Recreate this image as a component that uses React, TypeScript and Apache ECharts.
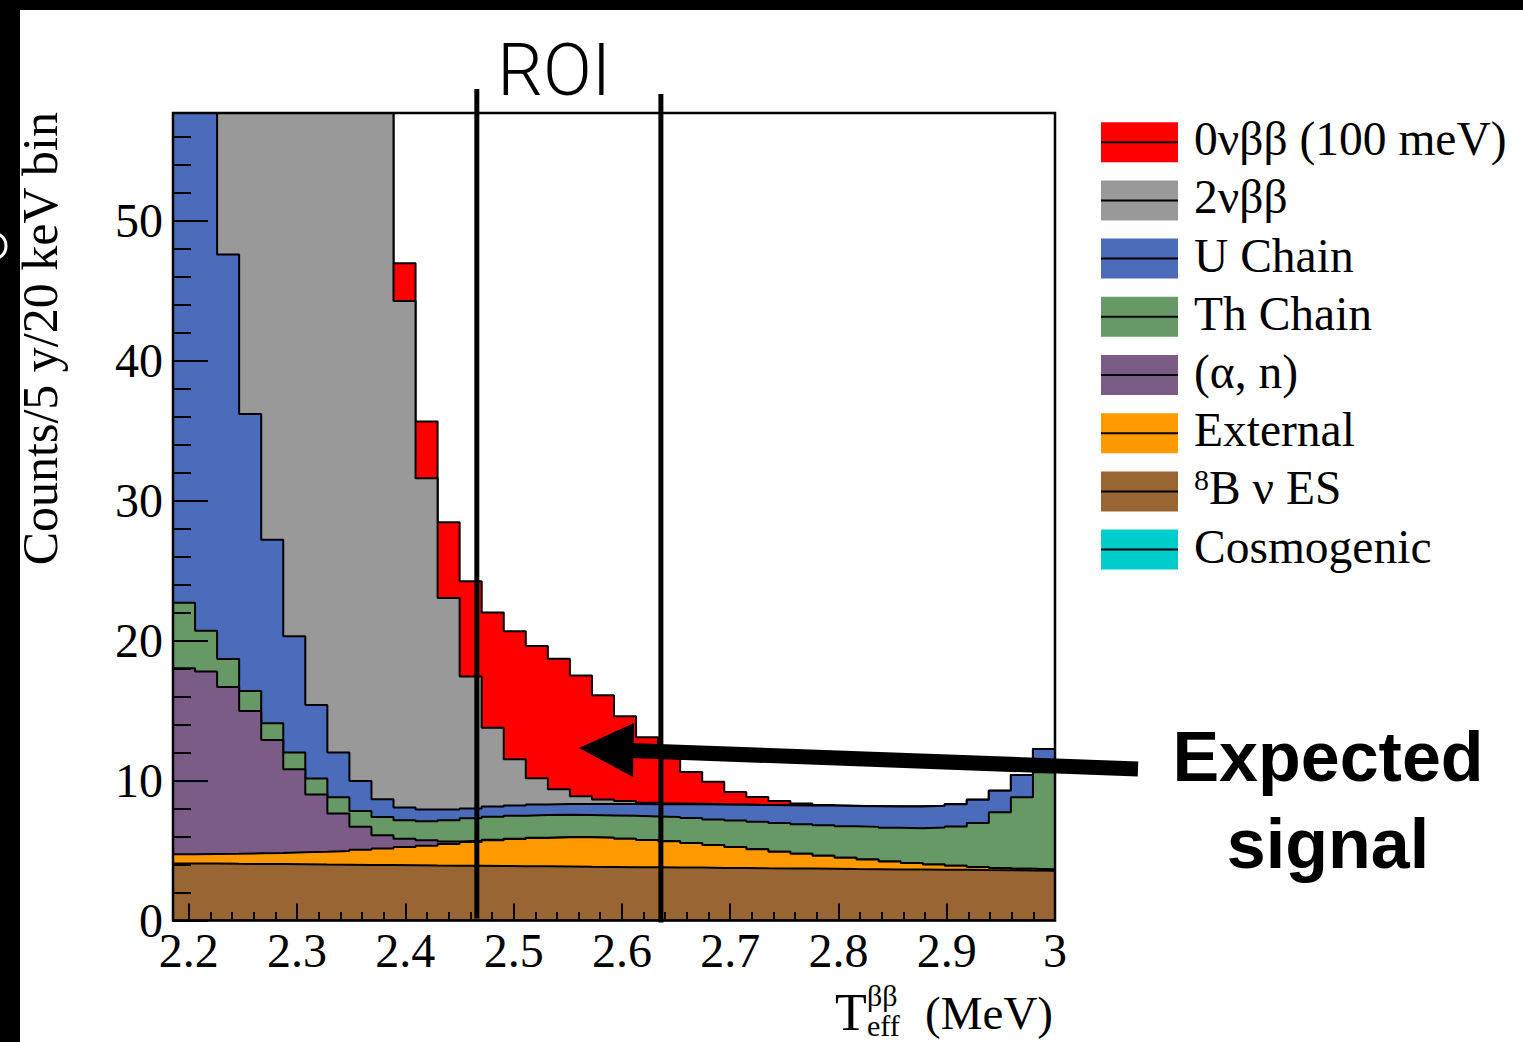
import React, { useEffect, useRef } from "react";
import * as echarts from "echarts";

// ---- axis ranges / ticks ----
const X_MIN = 2.1854;
const X_MAX = 3.0;
const Y_MAX = 57.7;
const N_BINS = 40;
const xMajorTicks = [2.2, 2.3, 2.4, 2.5, 2.6, 2.7, 2.8, 2.9, 3.0];
const yMajorTicks = [0, 10, 20, 30, 40, 50];
const roiEdges = [2.466, 2.636];

// ---- components (legend order = top of stack first) ----
const componentNames = ["0νββ (100 meV)", "2νββ", "U Chain", "Th Chain", "(α, n)", "External", "8B ν ES", "Cosmogenic"];
const legendLabels = ["0νββ (100 meV)", "2νββ", "U Chain", "Th Chain", "(α, n)", "External", "{sup|8}B ν ES", "Cosmogenic"];
const componentColors = ["#ff0000", "#999999", "#4a6cba", "#669966", "#7a5c87", "#ff9900", "#996633", "#00cccc"];

// counts per 20 keV bin, 40 bins
const zeroNuBB = [0.05, 0.08, 0.12, 0.2, 0.3, 0.45, 0.7, 1.0, 1.4, 2.0,
  2.7, 4.05, 5.41, 6.81, 8.23, 9.15, 9.45, 9.34, 8.62, 7.46,
  6.06, 4.68, 3.64, 2.27, 1.61, 0.91, 0.57, 0.3, 0.14, 0.05,
  0.02, 0, 0, 0, 0, 0, 0, 0, 0, 0];
const twoNuBB = [440, 380, 320, 265, 215, 170, 130, 98, 72, 52,
  36.2, 23.67, 15.12, 9.43, 5.63, 3.3, 1.87, 1.04, 0.55, 0.31,
  0.22, 0.12, 0.06, 0.03, 0.02, 0.01, 0, 0, 0, 0,
  0, 0, 0, 0, 0, 0, 0, 0, 0, 0];
const uChain = [60, 42, 28.9, 19.8, 13.1, 8.3, 5.25, 3.2, 2.13, 1.27,
  0.91, 0.83, 0.77, 0.7, 0.72, 0.74, 0.76, 0.78, 0.8, 0.82,
  0.84, 0.86, 0.9, 0.98, 1.06, 1.12, 1.2, 1.27, 1.34, 1.4,
  1.45, 1.48, 1.52, 1.56, 1.56, 1.6, 1.65, 1.55, 1.6, 1.65];
const thChain = [4.67, 2.9, 2.0, 1.43, 1.2, 1.2, 1.15, 1.16, 1.14, 1.31,
  1.31, 1.37, 1.51, 1.61, 1.65, 1.63, 1.62, 1.61, 1.59, 1.6,
  1.64, 1.68, 1.74, 1.79, 1.82, 1.9, 1.96, 2.04, 2.11, 2.19,
  2.25, 2.34, 2.41, 2.48, 2.63, 2.79, 3.14, 3.97, 5.11, 6.96];
const alphaN = [13.3, 13.05, 11.92, 10.17, 8.07, 5.93, 4.08, 2.67, 1.64, 0.95,
  0.6, 0.38, 0.18, 0.08, 0.04, 0.02, 0.01, 0, 0, 0,
  0, 0, 0, 0, 0, 0, 0, 0, 0, 0,
  0, 0, 0, 0, 0, 0, 0, 0, 0, 0];
const external = [0.65, 0.68, 0.72, 0.76, 0.8, 0.86, 0.92, 0.98, 1.08, 1.18,
  1.3, 1.42, 1.55, 1.7, 1.84, 1.95, 2.03, 2.08, 2.1, 2.08,
  2.03, 1.96, 1.87, 1.76, 1.64, 1.5, 1.36, 1.2, 1.06, 0.92,
  0.8, 0.68, 0.57, 0.47, 0.38, 0.3, 0.23, 0.17, 0.12, 0.08];
const b8Solar = [4.08, 4.07, 4.05, 4.04, 4.03, 4.02, 4.0, 3.99, 3.97, 3.96,
  3.95, 3.93, 3.92, 3.91, 3.89, 3.88, 3.87, 3.86, 3.84, 3.83,
  3.81, 3.8, 3.79, 3.78, 3.76, 3.75, 3.73, 3.72, 3.71, 3.7,
  3.68, 3.67, 3.65, 3.64, 3.63, 3.62, 3.6, 3.59, 3.57, 3.56];
const cosmogenic = [0, 0, 0, 0, 0, 0, 0, 0, 0, 0,
  0, 0, 0, 0, 0, 0, 0, 0, 0, 0,
  0, 0, 0, 0, 0, 0, 0, 0, 0, 0,
  0, 0, 0, 0, 0, 0, 0, 0, 0, 0];

const SERIF = "'Liberation Serif', 'Times New Roman', serif";
const SANS = "'Liberation Sans', Helvetica, Arial, sans-serif";

export default function App() {
  const ref = useRef<HTMLDivElement>(null);

  useEffect(() => {
    const el = ref.current as HTMLDivElement;
    const chart = echarts.init(el, null, { renderer: "svg" });

    const components = [zeroNuBB, twoNuBB, uChain, thChain, alphaN, external, b8Solar, cosmogenic];
    const binW = (X_MAX - X_MIN) / N_BINS;
    const edges: number[] = [];
    for (let i = 0; i <= N_BINS; i++) edges.push(X_MIN + i * binW);

    // cumulative stack (bottom = last component)
    const cum: number[][] = [];
    let running: number[] = components[0].map(() => 0);
    for (let k = components.length - 1; k >= 0; k--) {
      running = running.map((v, i) => v + components[k][i]);
      cum[k] = running.slice();
    }

    const xMinor: number[] = [];
    for (let i = 0; i <= 40; i++) {
      const v = Math.round((2.2 + i * 0.02) * 1000) / 1000;
      xMinor.push(v);
    }
    const yMinor: number[] = [];
    for (let v = 2; v < Y_MAX; v += 2) if (v % 10 !== 0) yMinor.push(v);

    const series = components.map((_, k) => ({
      type: "line",
      name: componentNames[k],
      step: "end",
      data: [...cum[k].map((v, i) => [edges[i], v]), [edges[N_BINS], cum[k][N_BINS - 1]]],
      showSymbol: false,
      symbol: "none",
      silent: true,
      clip: true,
      z: 2 + k,
      lineStyle: { color: "#000", width: 2 },
      itemStyle: { color: componentColors[k] },
      areaStyle: { color: componentColors[k], opacity: 1, origin: "start" },
    }));

    const tickStyle = { color: "#000", width: 2 };
    const option: any = {
      animation: false,
      backgroundColor: "#ffffff",
      grid: { left: 173, top: 113, width: 882, height: 807.5, show: false },
      xAxis: [
        {
          type: "value", min: X_MIN, max: X_MAX, position: "bottom", z: 20,
          axisLine: { show: false }, splitLine: { show: false },
          axisTick: { show: true, inside: true, length: 17, lineStyle: tickStyle, customValues: xMajorTicks },
          axisLabel: {
            show: true, customValues: xMajorTicks, margin: 6, fontFamily: SERIF, fontSize: 48, color: "#000",
            formatter: (v: number) => String(v),
          },
        },
        {
          type: "value", min: X_MIN, max: X_MAX, position: "bottom", z: 20,
          axisLine: { show: false }, splitLine: { show: false }, axisLabel: { show: false },
          axisTick: { show: true, inside: true, length: 8.5, lineStyle: tickStyle, customValues: xMinor },
        },
      ],
      yAxis: [
        {
          type: "value", min: 0, max: Y_MAX, position: "left", z: 20,
          axisLine: { show: false }, splitLine: { show: false },
          axisTick: { show: true, inside: true, length: 35, lineStyle: tickStyle, customValues: yMajorTicks },
          axisLabel: { show: true, customValues: yMajorTicks, margin: 10, fontFamily: SERIF, fontSize: 48, color: "#000" },
        },
        {
          type: "value", min: 0, max: Y_MAX, position: "left", z: 20,
          axisLine: { show: false }, splitLine: { show: false }, axisLabel: { show: false },
          axisTick: { show: true, inside: true, length: 18, lineStyle: tickStyle, customValues: yMinor },
        },
      ],
      series,
    };
    chart.setOption(option);

    const roiPx = roiEdges.map((v) => chart.convertToPixel({ xAxisIndex: 0 }, v) as number);
    const yZero = chart.convertToPixel({ yAxisIndex: 0 }, 0) as number;

    const legendItems: any[] = [];
    legendLabels.forEach((label, i) => {
      const cy = 142.2 + 58.2 * i;
      legendItems.push(
        { type: "rect", shape: { x: 1101, y: cy - 20, width: 77, height: 40 }, style: { fill: componentColors[i] }, z: 100 },
        { type: "line", shape: { x1: 1101, y1: cy, x2: 1178, y2: cy }, style: { stroke: "#000", lineWidth: 2 }, z: 101 },
        {
          type: "text", x: 1194, y: cy - 3, z: 101,
          style: {
            text: label, fontFamily: SERIF, fontSize: 47.5, fill: "#000", align: "left", verticalAlign: "middle",
            rich: { sup: { fontFamily: SERIF, fontSize: 30, verticalAlign: "top", fill: "#000" } },
          },
        }
      );
    });

    const graphic: any[] = [
      { type: "rect", shape: { x: 0, y: 0, width: 1523, height: 10 }, style: { fill: "#000" }, z: 110 },
      { type: "rect", shape: { x: 0, y: 0, width: 20, height: 1042 }, style: { fill: "#000" }, z: 110 },
      { type: "arc", shape: { cx: -7, cy: 246, r: 13, startAngle: -1.1, endAngle: 1.1 }, style: { stroke: "#fff", lineWidth: 3, fill: "none" }, z: 111 },
      { type: "rect", shape: { x: 173, y: 113, width: 882, height: 807.5 }, style: { fill: "none", stroke: "#000", lineWidth: 2.5 }, z: 100 },
      // ROI lines
      { type: "line", shape: { x1: roiPx[0], y1: 89, x2: roiPx[0], y2: yZero - 2 }, style: { stroke: "#000", lineWidth: 5 }, z: 104 },
      { type: "line", shape: { x1: roiPx[1], y1: 94, x2: roiPx[1], y2: yZero + 2 }, style: { stroke: "#000", lineWidth: 5 }, z: 104 },
      {
        type: "text", x: 554, y: 70, z: 104,
        style: { text: "ROI", fontFamily: "Roboto, 'Liberation Sans', sans-serif", fontWeight: 300, fontSize: 72, fill: "#000", align: "center", verticalAlign: "middle" },
      },
      // arrow
      { type: "line", shape: { x1: 630, y1: 750.5, x2: 1138, y2: 769 }, style: { stroke: "#000", lineWidth: 15 }, z: 105 },
      { type: "polygon", shape: { points: [[579, 748], [634, 723], [633, 777]] }, style: { fill: "#000" }, z: 105 },
      {
        type: "text", x: 1328, y: 757, z: 105,
        style: { text: "Expected", fontFamily: SANS, fontWeight: "bold", fontSize: 70, fill: "#000", align: "center", verticalAlign: "middle" },
      },
      {
        type: "text", x: 1328, y: 844, z: 105,
        style: { text: "signal", fontFamily: SANS, fontWeight: "bold", fontSize: 70, fill: "#000", align: "center", verticalAlign: "middle" },
      },
      // y-axis title
      {
        type: "text", x: 40, y: 112, rotation: Math.PI / 2, z: 105,
        style: { text: "Counts/5 y/20 keV bin", fontFamily: SERIF, fontSize: 50, fill: "#000", align: "right", verticalAlign: "middle" },
      },
      // x-axis title  T_eff^{ββ} (MeV)
      { type: "text", x: 835, y: 1012, z: 105, style: { text: "T", fontFamily: SERIF, fontSize: 52, fill: "#000", align: "left", verticalAlign: "middle" } },
      { type: "text", x: 867, y: 995, z: 105, style: { text: "ββ", fontFamily: SERIF, fontSize: 30, fill: "#000", align: "left", verticalAlign: "middle" } },
      { type: "text", x: 867, y: 1025, z: 105, style: { text: "eff", fontFamily: SERIF, fontSize: 30, fill: "#000", align: "left", verticalAlign: "middle" } },
      { type: "text", x: 1053, y: 1013, z: 105, style: { text: "(MeV)", fontFamily: SERIF, fontSize: 47, fill: "#000", align: "right", verticalAlign: "middle" } },
      ...legendItems,
    ];
    chart.setOption({ graphic });

    return () => {
      chart.dispose();
    };
  }, []);

  return <div ref={ref} style={{ position: "absolute", left: 0, top: 0, width: 1523, height: 1042 }} />;
}
